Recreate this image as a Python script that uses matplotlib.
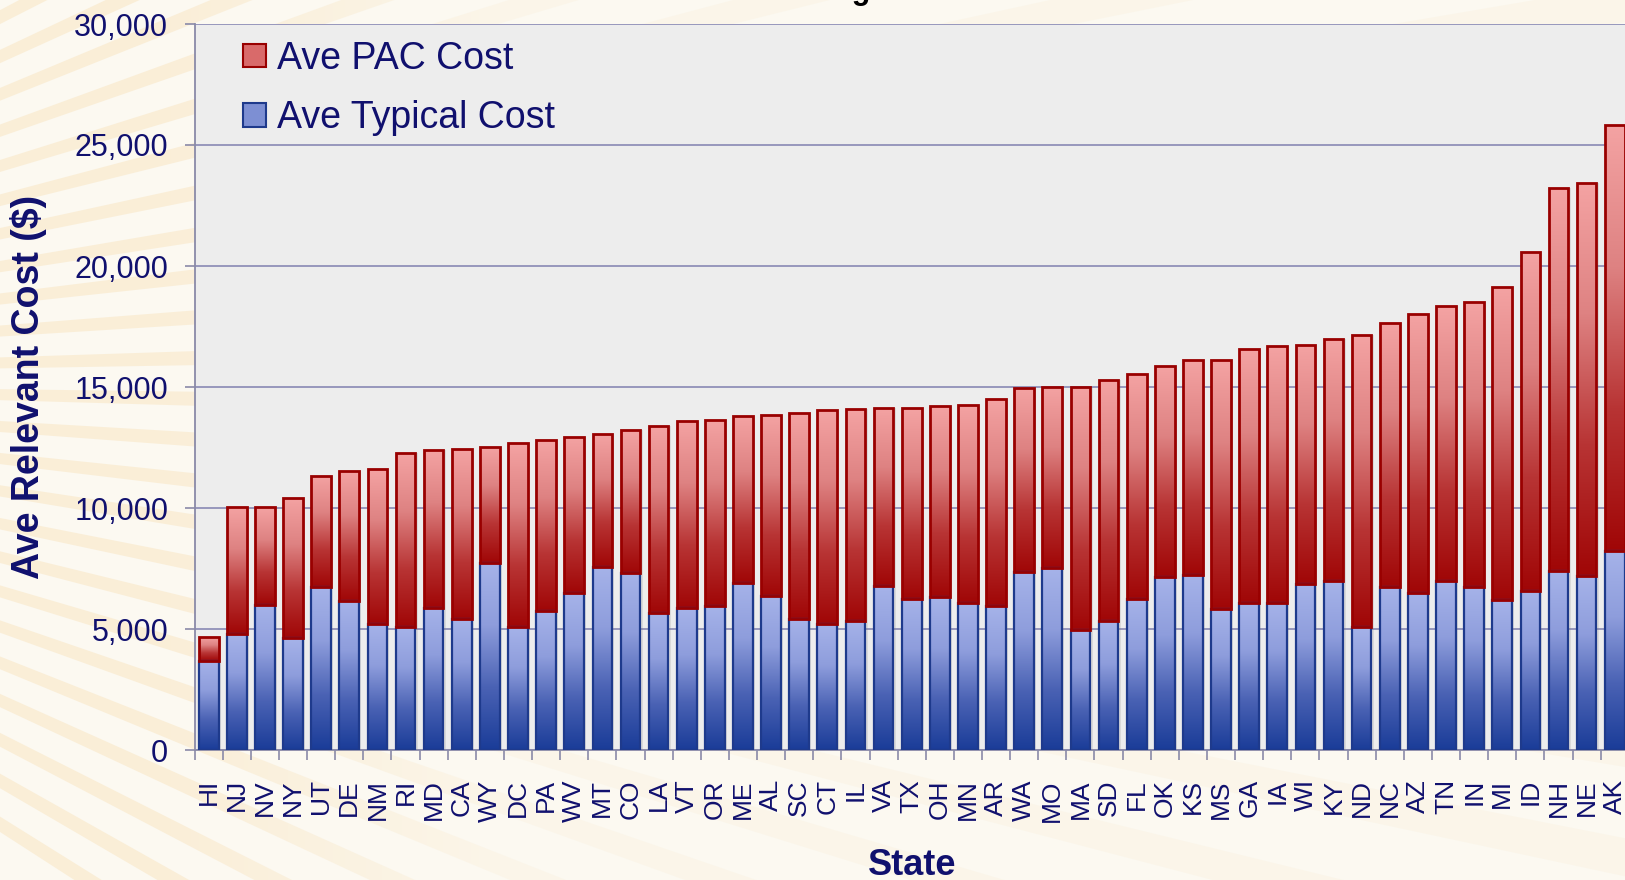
import numpy as np
import matplotlib.pyplot as plt
from matplotlib.colors import LinearSegmentedColormap, to_rgb
from matplotlib.patches import Patch, Polygon
from matplotlib.ticker import FuncFormatter

states = ['HI', 'NJ', 'NV', 'NY', 'UT', 'DE', 'NM', 'RI', 'MD', 'CA', 'WY', 'DC', 'PA',
          'WV', 'MT', 'CO', 'LA', 'VT', 'OR', 'ME', 'AL', 'SC', 'CT', 'IL', 'VA', 'TX',
          'OH', 'MN', 'AR', 'WA', 'MO', 'MA', 'SD', 'FL', 'OK', 'KS', 'MS', 'GA', 'IA',
          'WI', 'KY', 'ND', 'NC', 'AZ', 'TN', 'IN', 'MI', 'ID', 'NH', 'NE', 'AK']

# bottom segment (blue)
typical_cost = [3680, 4790, 6000, 4620, 6740, 6160, 5210, 5100, 5870, 5430, 7730, 5100, 5760,
                6480, 7570, 7310, 5650, 5870, 5930, 6920, 6370, 5430, 5210, 5340, 6760, 6260,
                6310, 6090, 5930, 7350, 7510, 4960, 5340, 6240, 7130, 7230, 5830, 6080, 6080,
                6870, 6970, 5090, 6740, 6470, 6970, 6740, 6200, 6580, 7410, 7170, 8230]
# top segment (red)
pac_cost = [990, 5250, 4040, 5800, 4600, 5350, 6400, 7180, 6520, 7010, 4810, 7570, 7050,
            6450, 5490, 5900, 7720, 7740, 7720, 6890, 7490, 8490, 8820, 8750, 7380, 7880,
            7890, 8150, 8590, 7610, 7490, 10040, 9950, 9310, 8740, 8870, 10270, 10510, 10620,
            9880, 10010, 12040, 10890, 11550, 11360, 11770, 12950, 14010, 15800, 16250, 17610]

navy = '#10106e'
cream = '#fcf9f1'
plt.rcParams['font.family'] = ['Liberation Sans', 'DejaVu Sans']

W, H = 1625, 880
fig = plt.figure(figsize=(16.25, 8.8), dpi=100)
fig.patch.set_facecolor(cream)

# faint sunburst behind everything
bg = fig.add_axes([0, 0, 1, 1], zorder=-5)
bg.set_xlim(0, W)
bg.set_ylim(H, 0)
bg.axis('off')
cx, cy = -700, 380
for ang in np.arange(-30, 34, 2.6):
    a0, a1 = np.radians(ang - 0.45), np.radians(ang + 0.45)
    r = 4000
    bg.add_patch(Polygon([(cx, cy), (cx + r * np.cos(a0), cy + r * np.sin(a0)),
                          (cx + r * np.cos(a1), cy + r * np.sin(a1))],
                         closed=True, facecolor='#f7d8a2', edgecolor='none', alpha=0.32))
# fade rays out to the right
fade = np.zeros((2, 400, 4))
fade[..., :3] = to_rgb(cream)
fade[..., 3] = np.clip((np.linspace(0, W, 400) - 150) / 500, 0, 0.7)
bg.imshow(fade, extent=[0, W, H, 0], aspect='auto', zorder=5)
bg.set_xlim(0, W)
bg.set_ylim(H, 0)

x0, x1 = 194.6, 1628.8
y0, y1 = 750, 24
ax = fig.add_axes([x0 / W, 1 - y0 / H, (x1 - x0) / W, (y0 - y1) / H])
ax.set_facecolor('#ededed')

x = np.arange(len(states))
bw = 0.7
typical = np.array(typical_cost)
pac = np.array(pac_cost)

# shadows
ax.bar(x + 0.08, typical + pac, bw, color='#808080', alpha=0.18, zorder=2, linewidth=0)

blue_cmap = LinearSegmentedColormap.from_list('b', ['#1a3c98', '#4a62b4', '#8e9ddc', '#a6b3e9'])
red_cmap = LinearSegmentedColormap.from_list('r', ['#a00606', '#b83434', '#de8282', '#f4a3a3'])
grad = np.linspace(0, 1, 256).reshape(-1, 1)

bars_b = ax.bar(x, typical, bw, facecolor='none', edgecolor='#1e3a8c', linewidth=1.6, zorder=4)
bars_r = ax.bar(x, pac, bw, bottom=typical, facecolor='none', edgecolor='#990000',
                linewidth=2.0, zorder=4)
for bars, cm in [(bars_b, blue_cmap), (bars_r, red_cmap)]:
    for p in bars:
        bx, by, w, h = p.get_x(), p.get_y(), p.get_width(), p.get_height()
        im = ax.imshow(grad, cmap=cm, aspect='auto', origin='lower',
                       extent=[bx, bx + w, by, by + h], zorder=3)
        im.set_clip_path(p)

ax.set_xlim(-0.5, len(states) - 0.5)
ax.set_ylim(0, 30000)
ax.set_yticks(np.arange(0, 30001, 5000))
ax.yaxis.set_major_formatter(FuncFormatter(lambda v, p: f'{int(v):,}'))
ax.set_xticks(x)
ax.set_xticklabels(states, rotation=90, fontsize=19, color=navy)
ax.set_xticks(np.arange(-0.5, len(states), 1), minor=True)
ax.tick_params(axis='x', which='major', length=0, pad=21)
ax.tick_params(axis='x', which='minor', length=7.5, color='#8a8aa8', width=1.2)
ax.tick_params(axis='y', labelsize=22, labelcolor=navy, length=7, color='#8a8aa8',
               width=1.2, pad=12)
ax.grid(axis='y', color='#9090b8', linewidth=1.3, zorder=1)
ax.set_axisbelow(True)
for s in ['top', 'right']:
    ax.spines[s].set_visible(False)
ax.spines['left'].set_color('#8a8aa8')
ax.spines['left'].set_linewidth(1.3)
ax.spines['bottom'].set_color('#8a8aa8')
ax.spines['bottom'].set_linewidth(1.3)

ax.set_ylabel('Ave Relevant Cost ($)', fontsize=27, fontweight='bold', color=navy,
              va='center')
ax.yaxis.set_label_coords(-(x0 - 29) / (x1 - x0), 0.5)
ax.set_xlabel('State', fontsize=26, fontweight='bold', color=navy, va='top')
ax.xaxis.set_label_coords(0.5, -0.135)

handles = [Patch(facecolor='#d96a6a', edgecolor='#990000', linewidth=1.5),
           Patch(facecolor='#7d8fd3', edgecolor='#1e3a8c', linewidth=1.5)]
ax.legend(handles, ['Ave PAC Cost', 'Ave Typical Cost'], loc='upper left',
          bbox_to_anchor=(0.034, 0.977), frameon=False, fontsize=27, labelcolor=navy,
          handlelength=0.6, handleheight=0.6, handletextpad=0.3, labelspacing=0.62,
          borderpad=0, borderaxespad=0)

# title sits above the visible area, only the tail of the g shows
fig.text(888 / W, 1 + 1.5 / H, 'Average', ha='right', va='baseline', fontsize=22,
         fontweight='bold', color='black')

fig.savefig('out.png', dpi=100, facecolor=fig.get_facecolor())
